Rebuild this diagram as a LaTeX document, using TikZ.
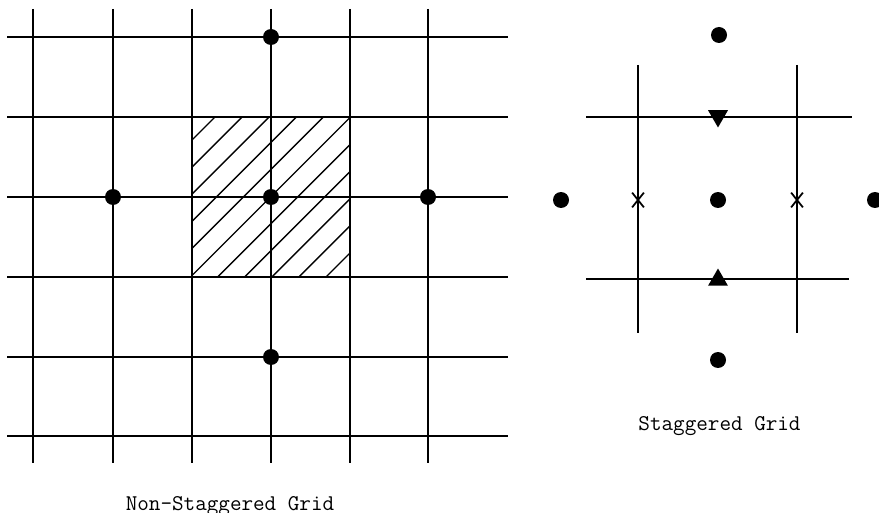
\documentclass[tikz,border=0pt]{standalone}
\usepackage{tikz}
\usetikzlibrary{shapes.geometric,shapes.misc}

\begin{document}
\begin{tikzpicture}[
    x=0.02cm, y=-0.02cm,
    gridline/.style={line width=1.2pt},
    hatch/.style={line width=0.8pt},
    dot/.style={circle, fill, inner sep=0pt, minimum size=0.32cm},
    tri/.style={regular polygon, regular polygon sides=3, fill, inner sep=0pt, minimum size=0.46cm},
    xmark/.style={cross out, draw, line width=1pt, inner sep=0pt, minimum width=0.2cm, minimum height=0.26cm},
    caption/.style={font=\ttfamily\fontsize{12.8}{14}\selectfont, anchor=base}
]
    \useasboundingbox (0,0) rectangle (879,513);

    % Non-staggered grid
    \foreach \gx in {33,113,192,271,350,428}
        \draw[gridline] (\gx,9) -- (\gx,463);
    \foreach \gy in {37,117,197,277,357,436}
        \draw[gridline] (7,\gy) -- (508,\gy);

    % Hatched cell
    \begin{scope}
        \clip (192,117) rectangle (350,277);
        \foreach \k in {0,...,10}
            \draw[hatch] ({332+27.1*\k-277},277) -- ({332+27.1*\k-117},117);
    \end{scope}

    % Points, non-staggered
    \node[dot] (ntop) at (271,37) {};
    \node[dot] (nleft) at (113,197) {};
    \node[dot] (ncentre) at (271,197) {};
    \node[dot] (nright) at (428,197) {};
    \node[dot] (nbottom) at (271,357) {};

    % Staggered grid
    \foreach \gx in {638,797}
        \draw[gridline] (\gx,65) -- (\gx,333);
    \draw[gridline] (586,117) -- (852,117);
    \draw[gridline] (586,279) -- (849,279);

    % Points, staggered
    \node[dot] (stop) at (719,35) {};
    \node[dot] (sleft) at (561,200) {};
    \node[dot] (scentre) at (718,200) {};
    \node[dot] (sright) at (875,200) {};
    \node[dot] (sbottom) at (718,360) {};
    \node[tri, shape border rotate=180] (vnorth) at (718,116) {};
    \node[tri] (vsouth) at (718,280) {};
    \node[xmark] (uwest) at (638,200) {};
    \node[xmark] (ueast) at (797,200) {};

    % Labels
    \node[caption] (nslabel) at (230,510) {Non-Staggered Grid};
    \node[caption] (slabel) at (719.5,430) {Staggered Grid};
\end{tikzpicture}
\end{document}
